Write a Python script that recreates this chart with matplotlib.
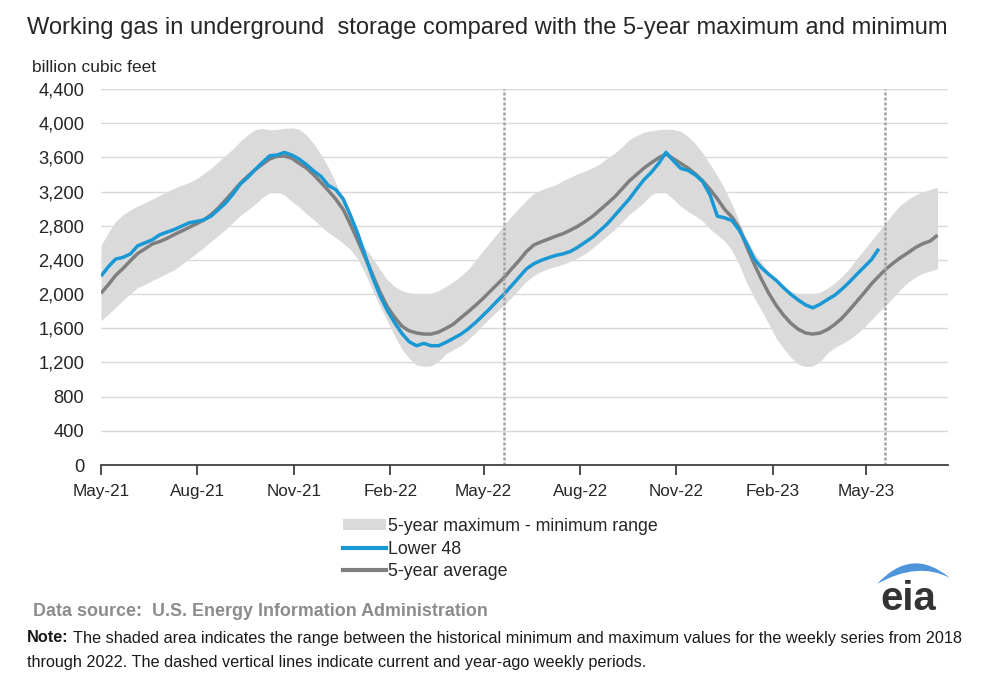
import matplotlib
matplotlib.use('Agg')
import matplotlib.pyplot as plt
import pandas as pd
from matplotlib.patches import PathPatch, Patch
from matplotlib.path import Path
from matplotlib.lines import Line2D

plt.rcParams['font.family'] = ['Liberation Sans', 'DejaVu Sans']

# ---------------- data (weekly, starting 2021-05-01) ----------------
start_date = '2021-05-01'

lower48 = [2210, 2320, 2410, 2430, 2470, 2565, 2600, 2636, 2694, 2725,
           2756, 2795, 2834, 2850, 2869, 2912, 2990, 3067, 3172, 3289,
           3366, 3456, 3541, 3619, 3627, 3658, 3627, 3580, 3515, 3440,
           3375, 3270, 3223, 3114, 2919, 2706, 2453, 2200, 1987, 1812,
           1668, 1540, 1442, 1396, 1423, 1396, 1396, 1435, 1481, 1528,
           1590, 1664, 1746, 1831, 1920, 2006, 2103, 2200, 2297, 2356,
           2395, 2426, 2453, 2472, 2500, 2550, 2608, 2667, 2744, 2822,
           2919, 3017, 3114, 3230, 3339, 3425, 3530, 3658, 3561, 3471,
           3448, 3394, 3316, 3160, 2912, 2892, 2861, 2745, 2589, 2414,
           2309, 2231, 2162, 2076, 1998, 1932, 1874, 1839, 1881, 1936,
           1987, 2060, 2142, 2231, 2317, 2403, 2530]

avg5 = [2010, 2110, 2220, 2300, 2390, 2475, 2530, 2587, 2615, 2652,
        2697, 2738, 2780, 2822, 2866, 2930, 3008, 3104, 3200, 3298,
        3380, 3455, 3520, 3582, 3612, 3615, 3590, 3530, 3475, 3395,
        3305, 3210, 3110, 2990, 2815, 2625, 2427, 2228, 2027, 1855,
        1730, 1625, 1570, 1545, 1532, 1532, 1555, 1598, 1647, 1720,
        1790, 1865, 1943, 2030, 2115, 2200, 2300, 2395, 2500, 2575,
        2612, 2645, 2678, 2708, 2750, 2795, 2850, 2910, 2985, 3060,
        3137, 3230, 3325, 3400, 3475, 3537, 3595, 3638, 3585, 3530,
        3475, 3405, 3325, 3225, 3115, 2990, 2900, 2770, 2555, 2355,
        2175, 2010, 1870, 1755, 1660, 1590, 1545, 1532, 1545, 1585,
        1645, 1720, 1815, 1915, 2015, 2120, 2210, 2295, 2365, 2430,
        2485, 2545, 2590, 2620, 2690]

max5 = [2570, 2720, 2850, 2930, 2985, 3030, 3070, 3112, 3155, 3197,
        3240, 3275, 3306, 3350, 3410, 3475, 3550, 3625, 3700, 3790,
        3865, 3925, 3940, 3922, 3928, 3940, 3945, 3930, 3860, 3760,
        3630, 3480, 3300, 3090, 2880, 2680, 2540, 2420, 2290, 2170,
        2090, 2040, 2015, 2002, 1996, 2010, 2040, 2090, 2145, 2210,
        2285, 2390, 2500, 2605, 2710, 2815, 2920, 3010, 3100, 3180,
        3220, 3250, 3280, 3330, 3370, 3410, 3440, 3480, 3525, 3590,
        3650, 3720, 3810, 3855, 3895, 3912, 3925, 3930, 3925, 3905,
        3845, 3760, 3650, 3520, 3380, 3230, 3050, 2840, 2640, 2490,
        2370, 2260, 2165, 2090, 2035, 2006, 2006, 2006, 2020, 2070,
        2130, 2210, 2300, 2415, 2520, 2625, 2735, 2842, 2950, 3045,
        3110, 3160, 3195, 3225, 3250]

min5 = [1690, 1765, 1845, 1930, 2005, 2075, 2115, 2160, 2200, 2245,
        2285, 2350, 2410, 2480, 2545, 2620, 2685, 2760, 2840, 2920,
        2985, 3055, 3130, 3190, 3200, 3160, 3085, 3020, 2940, 2870,
        2790, 2720, 2660, 2595, 2520, 2410, 2240, 2045, 1860, 1690,
        1515, 1355, 1250, 1168, 1155, 1160, 1210, 1300, 1350, 1395,
        1465, 1545, 1635, 1720, 1800, 1880, 1965, 2060, 2150, 2220,
        2265, 2300, 2325, 2350, 2385, 2425, 2475, 2540, 2612, 2685,
        2755, 2840, 2935, 3000, 3075, 3160, 3205, 3185, 3110, 3030,
        2965, 2915, 2855, 2760, 2690, 2620, 2510, 2340, 2130, 1960,
        1810, 1650, 1485, 1365, 1260, 1180, 1152, 1160, 1210, 1310,
        1375, 1420, 1470, 1535, 1610, 1700, 1790, 1870, 1965, 2060,
        2140, 2200, 2245, 2270, 2297]

xtick_dates = ['2021-05-01', '2021-08-01', '2021-11-01', '2022-02-01', '2022-05-01',
               '2022-08-01', '2022-11-01', '2023-02-01', '2023-05-01']
xtick_labels = ['May-21', 'Aug-21', 'Nov-21', 'Feb-22', 'May-22',
                'Aug-22', 'Nov-22', 'Feb-23', 'May-23']
yticks = [0, 400, 800, 1200, 1600, 2000, 2400, 2800, 3200, 3600, 4000, 4400]
marker_dates = ['2022-05-20', '2023-05-19']
x_end = '2023-07-18'

legend_labels = ['5-year maximum - minimum range', 'Lower 48', '5-year average']

# ---------------- figure ----------------
W, H = 1001, 683
fig = plt.figure(figsize=(W / 100, H / 100), dpi=100)
fig.patch.set_facecolor('white')

ax = fig.add_axes([101 / W, (H - 465) / H, (948 - 101) / W, (465 - 89) / H])

dates_all = pd.date_range(start_date, periods=len(avg5), freq='7D')
dates_l48 = dates_all[:len(lower48)]

BAND = '#dadada'
BLUE = '#1a98d4'
GRAY = '#7f7f7f'

ax.fill_between(dates_all, min5, max5, color=BAND, lw=0, zorder=2)
ax.plot(dates_all, avg5, color=GRAY, lw=2.5, zorder=4, solid_capstyle='butt')
ax.plot(dates_l48, lower48, color=BLUE, lw=2.5, zorder=5, solid_capstyle='butt')
for d in marker_dates:
    ax.axvline(pd.Timestamp(d), color='#a3a3a3', lw=1.8, ls=(0, (1.2, 0.8)), zorder=6)

ax.set_ylim(0, 4400)
ax.set_xlim(pd.Timestamp(start_date), pd.Timestamp(x_end))
ax.set_yticks(yticks)
ax.set_yticklabels([f'{v:,}' for v in yticks])
ax.set_xticks([pd.Timestamp(d) for d in xtick_dates])
ax.set_xticklabels(xtick_labels)

ax.grid(axis='y', color='#d9d9d9', lw=1.0, zorder=1)
ax.grid(axis='x', visible=False)
ax.set_axisbelow(True)
for s in ['top', 'right', 'left']:
    ax.spines[s].set_visible(False)
ax.spines['bottom'].set_color('#404040')
ax.spines['bottom'].set_linewidth(1.3)
ax.spines['bottom'].set_zorder(7)
ax.tick_params(axis='y', length=0, pad=12, labelsize=13.2, labelcolor='#262626')
ax.tick_params(axis='x', length=7, width=1.3, color='#404040', direction='out',
               pad=7, labelsize=12.3, labelcolor='#262626')

# legend
handles = [Patch(facecolor=BAND, edgecolor='none'),
           Line2D([], [], color=BLUE, lw=3),
           Line2D([], [], color=GRAY, lw=3)]
fig.legend(handles, legend_labels, loc='upper left',
           bbox_to_anchor=(343 / W, 1 - 518 / H), frameon=False, fontsize=12.8,
           handlelength=2.4, handleheight=0.6, handletextpad=0.15, labelspacing=0.32,
           borderaxespad=0, borderpad=0, labelcolor='#262626')

# overlay for texts in pixel coordinates
ov = fig.add_axes([0, 0, 1, 1], zorder=10)
ov.set_xlim(0, W)
ov.set_ylim(H, 0)
ov.axis('off')
ov.patch.set_alpha(0)

ov.text(27, 28, 'Working gas in underground  storage compared with the 5-year maximum and minimum',
        fontsize=17.05, va='center', ha='left', color='#262626')
ov.text(32, 67, 'billion cubic feet', fontsize=12.5, va='center', ha='left', color='#262626')

ov.text(33, 611, 'Data source:  U.S. Energy Information Administration', fontsize=12.85,
        fontweight='bold', va='center', ha='left', color='#8c8c8c')

fig.canvas.draw()
r = fig.canvas.get_renderer()
t_note = ov.text(27, 638, 'Note:', fontsize=11.7, fontweight='bold', va='center', ha='left',
                 color='#1a1a1a')
bb = t_note.get_window_extent(renderer=r)
ov.text(27 + bb.width + 4, 638,
        'The shaded area indicates the range between the historical minimum and maximum values for the weekly series from 2018',
        fontsize=11.7, va='center', ha='left', color='#1a1a1a')
ov.text(27, 663, 'through 2022. The dashed vertical lines indicate current and year-ago weekly periods.',
        fontsize=11.7, va='center', ha='left', color='#1a1a1a')

# eia logo
ov.text(908, 610, 'eia', fontsize=29, fontweight='bold', va='baseline', ha='center', color='#333333')
verts = [(877, 584), (912, 546), (950, 578), (918, 561), (877, 584)]
codes = [Path.MOVETO, Path.CURVE3, Path.CURVE3, Path.CURVE3, Path.CURVE3]
ov.add_patch(PathPatch(Path(verts, codes), facecolor='#4f95dc', edgecolor='none'))

fig.savefig('out.png', dpi=100, facecolor='white')
